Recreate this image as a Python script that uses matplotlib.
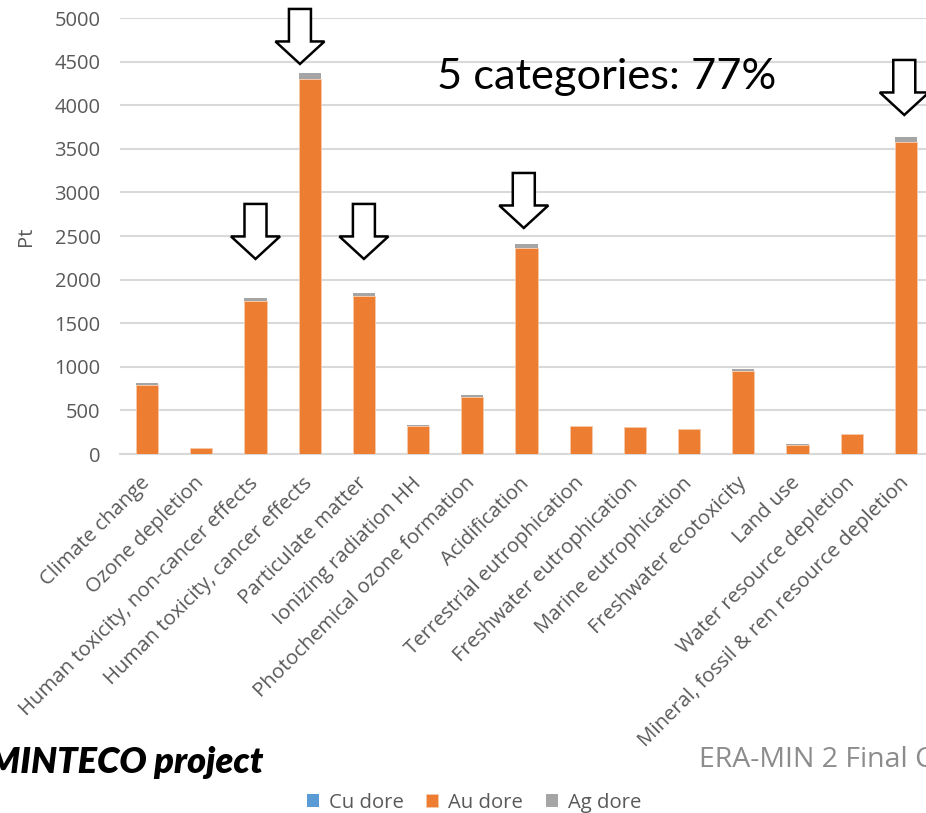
import matplotlib
matplotlib.use("Agg")
import matplotlib.pyplot as plt
from matplotlib.patches import Polygon
import numpy as np

categories = [
    "Climate change", "Ozone depletion", "Human toxicity, non-cancer effects",
    "Human toxicity, cancer effects", "Particulate matter", "Ionizing radiation HH",
    "Photochemical ozone formation", "Acidification", "Terrestrial eutrophication",
    "Freshwater eutrophication", "Marine eutrophication", "Freshwater ecotoxicity",
    "Land use", "Water resource depletion", "Mineral, fossil & ren resource depletion",
]
cu_dore = [0, 0, 0, 0, 0, 0, 0, 0, 0, 0, 0, 0, 0, 0, 0]
au_dore = [792, 70, 1755, 4298, 1812, 326, 655, 2363, 318, 308, 288, 948, 108, 226, 3582]
ag_dore = [20, 2, 32, 70, 35, 4, 20, 46, 4, 4, 3, 23, 2, 3, 58]
y_ticks = [0, 500, 1000, 1500, 2000, 2500, 3000, 3500, 4000, 4500, 5000]

# highlighted categories: (category index, x shift in categories, tip height in Pt)
arrow_marks = [(2, 0.0, 2237), (3, -0.18, 4473), (4, 0.0, 2237), (7, -0.05, 2592), (14, -0.03, 3888)]

W, H = 926, 813
fig = plt.figure(figsize=(W / 100, H / 100), dpi=100)
ax = fig.add_axes([120 / W, 1 - 454 / H, 813 / W, 436 / H])

C_CU, C_AU, C_AG = "#5B9BD5", "#ED7D31", "#A5A5A5"
grey_txt = "#595959"
tick_font = "Open Sans"

x = np.arange(len(categories))
bw = 0.41
cu = np.array(cu_dore, float)
au = np.array(au_dore, float)
ag = np.array(ag_dore, float)
ax.bar(x, cu, bw, color=C_CU, label="Cu dore", zorder=3)
ax.bar(x, au, bw, bottom=cu, color=C_AU, label="Au dore", zorder=3,
       edgecolor="#F6C9AB", linewidth=0.6)
ax.bar(x, ag, bw, bottom=cu + au, color=C_AG, label="Ag dore", zorder=3)

ax.set_xlim(-0.5, len(categories) - 0.5)
ax.set_ylim(0, 5000)
ax.set_yticks(y_ticks)
ax.set_yticklabels([str(v) for v in y_ticks], fontsize=14.5, color=grey_txt,
                   family=tick_font)
ax.grid(axis="y", color="#D9D9D9", linewidth=1.5, zorder=0)
ax.set_axisbelow(True)
for s in ["top", "right", "left"]:
    ax.spines[s].set_visible(False)
ax.spines["bottom"].set_color("#D9D9D9")
ax.spines["bottom"].set_linewidth(1.5)
ax.tick_params(axis="y", length=0, pad=14)
ax.tick_params(axis="x", length=0, pad=19)
ax.set_xticks(x)
ax.set_xticklabels(categories, rotation=45, ha="right", va="center",
                   rotation_mode="anchor", fontsize=14.7, color=grey_txt,
                   family=tick_font)
ax.set_ylabel("Pt", fontsize=14.5, color=grey_txt, family=tick_font)
ax.yaxis.set_label_coords(-0.103, 0.5)

# block arrows pointing at the dominant categories
px_x = 813 / len(categories)       # pixels per category
px_y = 436 / 5000                  # pixels per Pt
for idx, dx, tip in arrow_marks:
    cx = idx + dx
    hw = 24.5 / px_x
    sw = 11 / px_x
    head = 22.5 / px_y
    total = 55 / px_y
    pts = [(cx - sw, tip + total), (cx + sw, tip + total), (cx + sw, tip + head),
           (cx + hw, tip + head), (cx, tip), (cx - hw, tip + head),
           (cx - sw, tip + head)]
    ax.add_patch(Polygon(pts, closed=True, facecolor="white", edgecolor="black",
                         linewidth=1.8, zorder=5, clip_on=False, joinstyle="miter"))

fig.text(437 / W, 1 - 77 / H, "5 categories: 77%", fontsize=31.2, family="Lato",
         color="black", ha="left", va="center")

fig.text(-12 / W, 1 - 762 / H, "MINTECO project", fontsize=26, family="Lato",
         weight="heavy", style="italic", color="black", ha="left", va="center")
fig.text(699 / W, 1 - 760 / H, "ERA-MIN 2 Final Conference", fontsize=20.5,
         family="Open Sans", color="#8C8C8C", ha="left", va="center")

leg = fig.legend(loc="center", bbox_to_anchor=(474 / W, 1 - 803 / H), ncol=3,
                 frameon=False, handlelength=0.6, handleheight=0.6,
                 handletextpad=0.5, columnspacing=1.1,
                 prop={"family": tick_font, "size": 14.6})
for t in leg.get_texts():
    t.set_color(grey_txt)

fig.savefig("out.png", dpi=100, facecolor="white")
